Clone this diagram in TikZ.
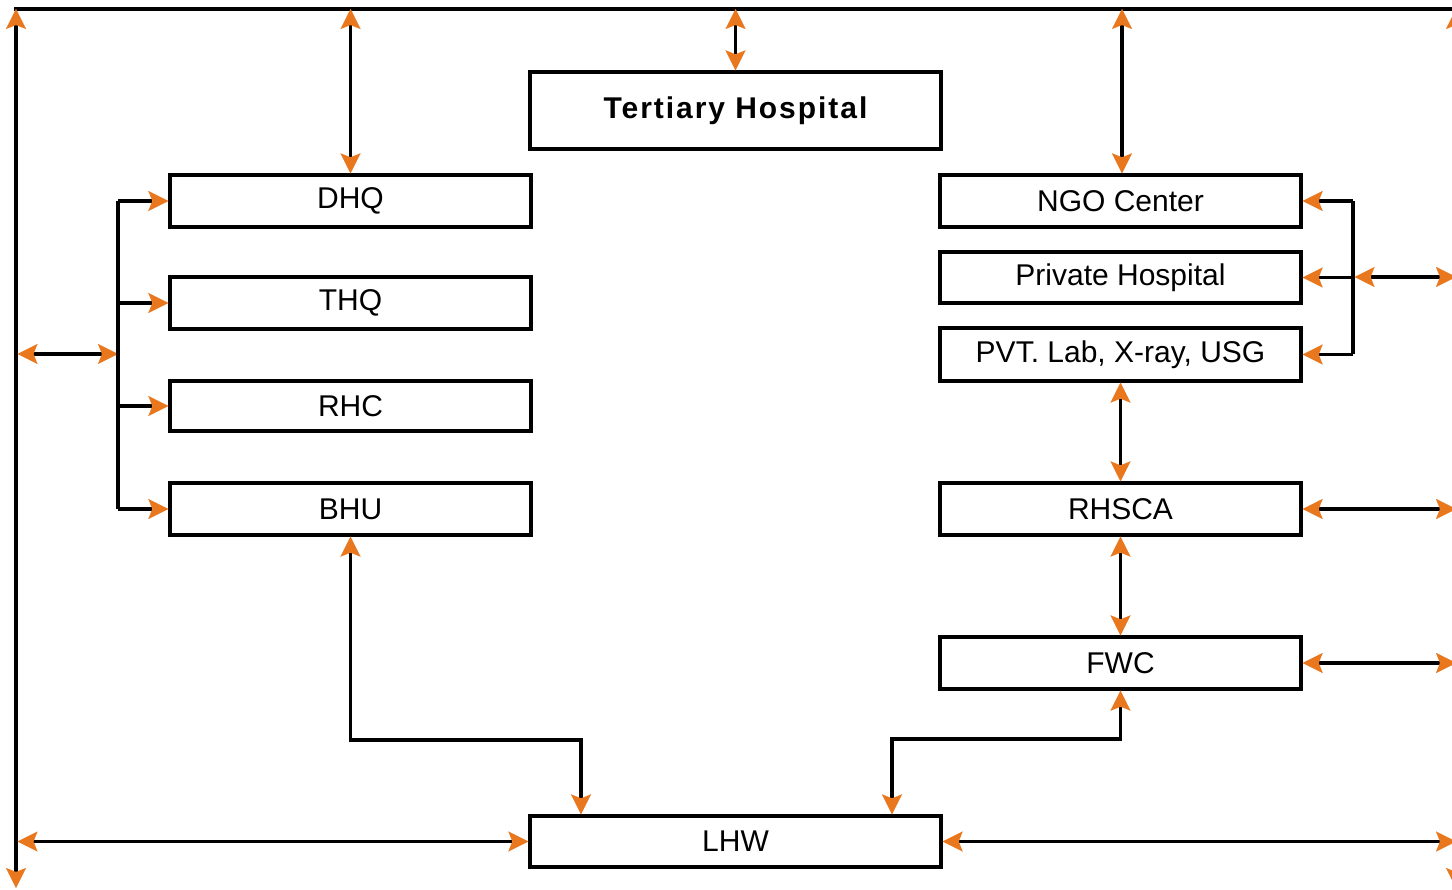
\documentclass[tikz,border=0pt]{standalone}
\usepackage{fontspec}
\setmainfont{Liberation Sans}
\usetikzlibrary{arrows.meta}
\definecolor{arrorange}{RGB}{232,119,30}
\tikzset{
  box/.style={draw=black, line width=3.3pt, minimum width=361pt, minimum height=52pt, inner sep=0pt,
    font=\fontsize{30}{36}\selectfont},
  wide/.style={minimum width=411pt},
  conn/.style={draw=black, line width=3.3pt},
  tip/.tip={Stealth[length=20pt,width=20pt,inset=4pt,color=arrorange,line width=0.01pt]},
  both/.style={conn,{tip}-{tip}},
  one/.style={conn,-{tip}}
}
\begin{document}
\begin{tikzpicture}[x=1pt,y=-1pt]
\useasboundingbox (0,0) rectangle (1452,890);
\clip (0,0) rectangle (1452,890);
% frame coordinates
\coordinate (tl) at (16,9);
\coordinate (tr) at (1456,9);
\coordinate (bl) at (16,888);
\coordinate (br) at (1456,888);
% nodes
\node[box, wide, minimum height=77pt, font=\fontsize{30}{36}\selectfont\bfseries\addfontfeatures{LetterSpace=6.5}] (tert) at (735.5,110.5) {Tertiary Hospital};
\node[box] (dhq) at (350.5,201) {DHQ};
\node[box] (thq) at (350.5,303) {THQ};
\node[box, minimum height=50pt] (rhc) at (350.5,406) {RHC};
\node[box] (bhu) at (350.5,509) {BHU};
\node[box] (ngo) at (1120.5,201) {NGO Center};
\node[box, minimum height=51pt] (ph) at (1120.5,277.5) {Private Hospital};
\node[box, minimum height=53pt] (pvt) at (1120.5,354.5) {PVT. Lab, X-ray, USG};
\node[box] (rhsca) at (1120.5,509) {RHSCA};
\node[box] (fwc) at (1120.5,663) {FWC};
\node[box, wide, minimum height=51pt] (lhw) at (735.5,841.5) {LHW};
% frame
\draw[conn, line cap=rect] (tl) -- (tr);
\draw[both] (bl) -- (tl);
\draw[both] (br) -- (tr);
% top connections
\draw[both] (dhq.north) -- (dhq.north |- tl);
\draw[both] (tert.north) -- (tert.north |- tl);
\draw[both] ([xshift=1.5pt]ngo.north) -- ([xshift=1.5pt]ngo.north |- tl);
% left bracket
\coordinate (lb) at (118,354);
\coordinate (lm) at (17.5,354);
\draw[both] (lm) -- (lb);
\draw[conn] (dhq.west -| lb) -- (bhu.west -| lb);
\draw[one] (dhq.west -| lb) -- (dhq.west);
\draw[one] (thq.west -| lb) -- (thq.west);
\draw[one] (rhc.west -| lb) -- (rhc.west);
\draw[one] (bhu.west -| lb) -- (bhu.west);
% right bracket
\coordinate (rb) at (1353,277);
\draw[conn] (ngo.east -| rb) -- (pvt.east -| rb);
\draw[one] (ngo.east -| rb) -- (ngo.east);
\draw[one] (ph.east -| rb) -- (ph.east);
\draw[one] (pvt.east -| rb) -- (pvt.east);
\draw[both] ([xshift=1.5pt]rb) -- (rb -| br);
% right chain
\draw[both] (pvt.south) -- (rhsca.north);
\draw[both] (rhsca.south) -- (fwc.north);
\draw[both] (rhsca.east) -- (rhsca.east -| br);
\draw[both] (fwc.east) -- (fwc.east -| br);
% to LHW
\coordinate (b1) at (581,740);
\coordinate (f1) at (892,739);
\draw[both] (bhu.south) |- (b1) -- (b1 |- lhw.north);
\draw[both] (fwc.south) |- (f1) -- (f1 |- lhw.north);
\draw[both] (lhw.west) -- ([xshift=1.5pt]lhw.west -| bl);
\draw[both] (lhw.east) -- (lhw.east -| br);
\end{tikzpicture}
\end{document}
